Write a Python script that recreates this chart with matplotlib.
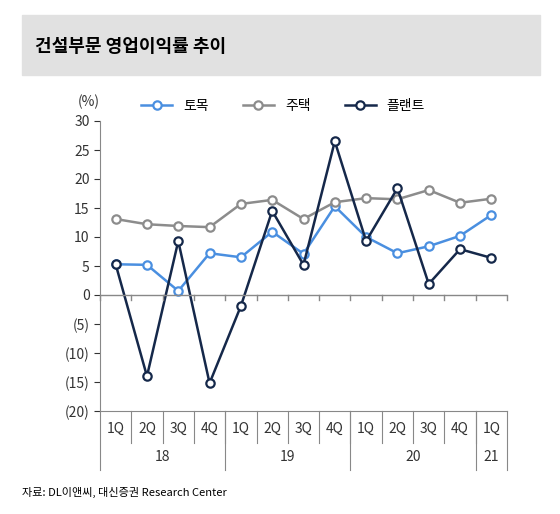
import matplotlib.pyplot as plt
import matplotlib.patches as mpatches
from matplotlib.ticker import FuncFormatter
import numpy as np

plt.rcParams["font.family"] = ["Noto Sans CJK KR", "DejaVu Sans"]

quarters = ["1Q", "2Q", "3Q", "4Q", "1Q", "2Q", "3Q", "4Q", "1Q", "2Q", "3Q", "4Q", "1Q"]
years = ["18", "19", "20", "21"]
year_sizes = [4, 4, 4, 1]
civil = [5.3, 5.2, 0.7, 7.2, 6.5, 10.9, 7.1, 15.3, 10.0, 7.2, 8.4, 10.2, 13.8]
housing = [13.1, 12.2, 11.9, 11.7, 15.7, 16.4, 13.1, 16.0, 16.7, 16.5, 18.1, 15.9, 16.6]
plant = [5.3, -14.0, 9.3, -15.2, -1.9, 14.5, 5.2, 26.5, 9.3, 18.4, 1.9, 7.9, 6.4]

fig = plt.figure(figsize=(5.6, 5.14), dpi=100)

# header band
fig.patches.append(mpatches.Rectangle((22 / 560, 1 - 75 / 514), 518 / 560, 60 / 514,
                                      transform=fig.transFigure, color="#e1e1e1", zorder=0))
fig.text(35 / 560, 1 - 47 / 514, "건설부문 영업이익률 추이", fontsize=13, fontweight="bold",
         va="center", ha="left")
fig.text(22 / 560, 1 - 492 / 514, "자료: DL이앤씨, 대신증권 Research Center", fontsize=8,
         va="center", ha="left")

ax = fig.add_axes([100 / 560, 1 - 411 / 514, 407 / 560, 290 / 514])
x = np.arange(len(quarters))
ax.plot(x, civil, color="#4a8fe0", lw=1.8, marker="o", ms=6, mfc="white", mew=1.6, label="토목")
ax.plot(x, housing, color="#8c8c8c", lw=1.8, marker="o", ms=6, mfc="white", mew=1.6, label="주택")
ax.plot(x, plant, color="#15284a", lw=1.8, marker="o", ms=6, mfc="white", mew=1.6, label="플랜트")

ax.set_xlim(-0.5, len(quarters) - 0.5)
ax.set_ylim(-20, 30)
ax.set_yticks(range(-20, 31, 5))
ax.yaxis.set_major_formatter(FuncFormatter(lambda v, p: f"({abs(int(v))})" if v < 0 else f"{int(v)}"))
ax.tick_params(axis="y", labelsize=10, colors="#333333", length=4, direction="out")
ax.set_xticks([])
for s in ["top", "right"]:
    ax.spines[s].set_visible(False)
ax.spines["left"].set_color("#888888")
ax.spines["bottom"].set_color("#888888")

# zero line with ticks
ax.axhline(0, color="#888888", lw=1)
for b in np.arange(-0.5, len(quarters), 1):
    ax.plot([b, b], [0, -0.8], color="#888888", lw=1, clip_on=False)

ax.text(-0.5, 32, "(%)", fontsize=10, ha="right", va="bottom", color="#333333")

# category table
tr = ax.get_xaxis_transform()
row1 = -0.11
row2 = -0.205
for i, q in enumerate(quarters):
    ax.text(i, -0.06, q, transform=tr, ha="center", va="center", fontsize=10, color="#333333")
for b in np.arange(0.5, len(quarters) - 1, 1):
    ax.plot([b, b], [0, row1], transform=tr, color="#888888", lw=0.8, clip_on=False)
start = 0
bounds = [-0.5]
for y, n in zip(years, year_sizes):
    ax.text(start + (n - 1) / 2, -0.16, y, transform=tr, ha="center", va="center",
            fontsize=10, color="#333333")
    start += n
    bounds.append(start - 0.5)
for b in bounds:
    ax.plot([b, b], [0, row2], transform=tr, color="#888888", lw=0.8, clip_on=False)

ax.legend(loc="lower center", bbox_to_anchor=(0.45, 0.985), ncol=3, frameon=False,
          fontsize=10, handlelength=2.2, columnspacing=2.5)

fig.savefig("out.png", dpi=100)
